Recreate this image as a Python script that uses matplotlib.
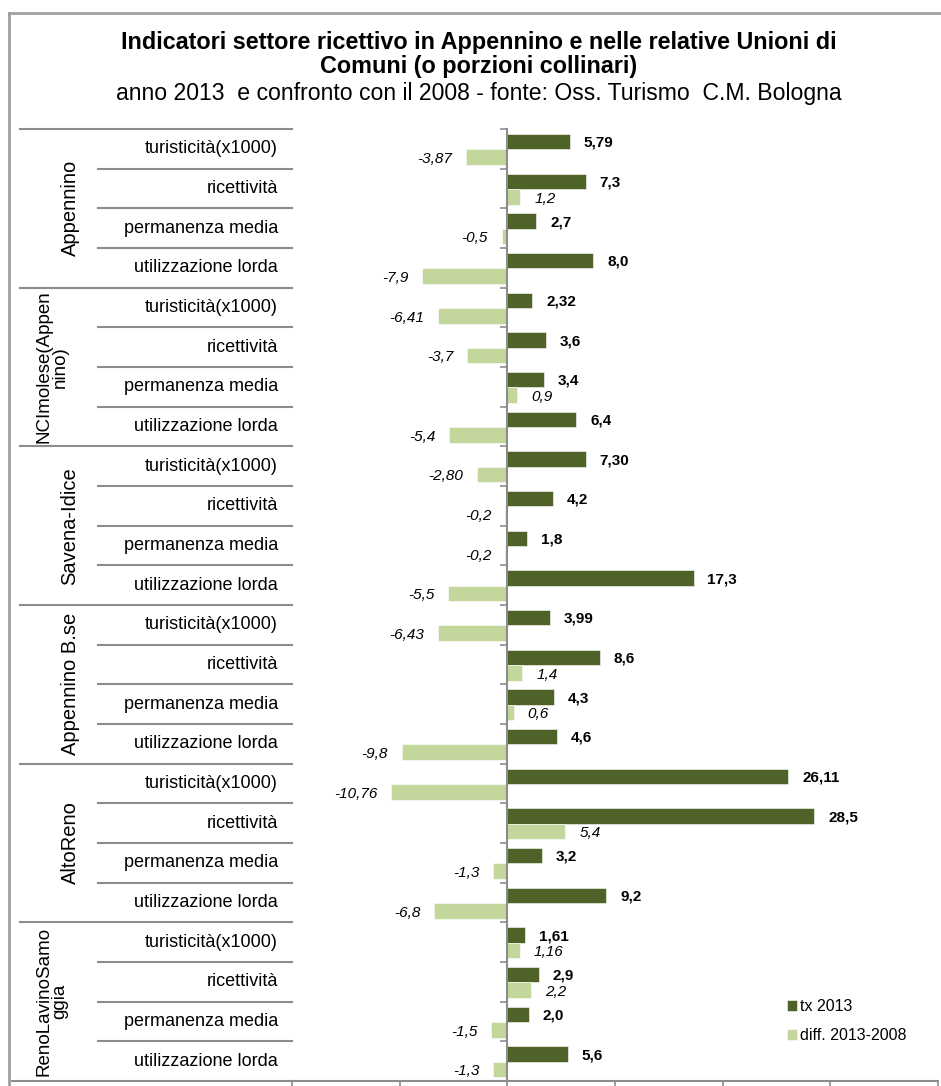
import numpy as np
import matplotlib
matplotlib.use("Agg")
import matplotlib.pyplot as plt

plt.rcParams["font.family"] = ["Liberation Sans", "DejaVu Sans"]

# data
groups = ["Appennino", "NCImolese(Appen\nnino)", "Savena-Idice",
          "Appennino B.se", "AltoReno", "RenoLavinoSamo\nggia"]
indicators = ["turisticità(x1000)", "ricettività", "permanenza media", "utilizzazione lorda"]
decimals = [2, 1, 1, 1]

tx_2013 = [5.79, 7.3, 2.7, 8.0,
           2.32, 3.6, 3.4, 6.4,
           7.30, 4.2, 1.8, 17.3,
           3.99, 8.6, 4.3, 4.6,
           26.11, 28.5, 3.2, 9.2,
           1.61, 2.9, 2.0, 5.6]
diff_2013_2008 = [-3.87, 1.2, -0.5, -7.9,
                  -6.41, -3.7, 0.9, -5.4,
                  -2.80, -0.2, -0.2, -5.5,
                  -6.43, 1.4, 0.6, -9.8,
                  -10.76, 5.4, -1.3, -6.8,
                  1.16, 2.2, -1.5, -1.3]

dark = "#4f6228"
light = "#c3d69b"
grey = "#8c8c8c"

W, H = 941, 1086
fig = plt.figure(figsize=(W / 100, H / 100), dpi=100)

n = len(tx_2013)
y = np.arange(n)

# main plot area
ax = fig.add_axes([292 / W, 1 - 1081 / H, 646 / W, (1081 - 129) / H])
ax.barh(y + 0.32, tx_2013, height=0.39, color=dark, edgecolor="white", linewidth=0.4, label="tx 2013")
ax.barh(y + 0.71, diff_2013_2008, height=0.39, color=light, edgecolor="white", linewidth=0.4,
        label="diff. 2013-2008")
ax.set_xlim(-20, 40)
ax.set_ylim(n, 0)

for i in range(n):
    d = decimals[i % 4]
    ax.annotate(f"{tx_2013[i]:.{d}f}".replace(".", ","), (tx_2013[i], i + 0.35),
                xytext=(10, 0), textcoords="offset points", ha="left", va="center",
                fontsize=11, fontweight="bold")
    v = diff_2013_2008[i]
    off = 10 if v >= 0 else -10
    ax.annotate(f"{v:.{d}f}".replace(".", ","), (v, i + 0.76),
                xytext=(off, 0), textcoords="offset points",
                ha="left" if v >= 0 else "right", va="center",
                fontsize=11, fontstyle="italic")

for s in ["top", "right"]:
    ax.spines[s].set_visible(False)
ax.spines["left"].set_position(("data", 0))
ax.spines["left"].set_color(grey)
ax.spines["left"].set_linewidth(1.5)
ax.spines["bottom"].set_color(grey)
ax.spines["bottom"].set_linewidth(1.5)
ax.set_yticks(np.arange(n + 1))
ax.set_yticklabels([])
ax.set_xticks(np.arange(-20, 41, 10))
ax.set_xticklabels([])
ax.tick_params(axis="both", direction="out", length=5, width=1.2, color=grey)

leg = ax.legend(loc="center left", bbox_to_anchor=(787 / W, 1 - 1021 / H),
                bbox_transform=fig.transFigure, frameon=False, fontsize=11.5,
                handlelength=0.6, handleheight=0.7, handletextpad=0.2, labelspacing=0.9,
                borderpad=0, borderaxespad=0)

# category label column
lab = fig.add_axes([0, 1 - 1081 / H, 292 / W, (1081 - 129) / H])
lab.set_xlim(0, 292)
lab.set_ylim(n, 0)
lab.axis("off")
for i in range(n):
    lab.text(278, i + 0.5, indicators[i % 4], ha="right", va="center", fontsize=13)
    if i % 4:
        lab.plot([98, 292], [i, i], color=grey, lw=1.5, clip_on=False)
for g, name in enumerate(groups):
    lab.plot([20, 292], [4 * g, 4 * g], color=grey, lw=1.5, clip_on=False)
    two_lines = "\n" in name
    lab.text(52 if two_lines else 70, 4 * g + 2, name, rotation=90, ha="center", va="center",
             fontsize=13.5 if two_lines else 14.5, multialignment="center", linespacing=0.95)
lab.plot([12, 292], [n, n], color=grey, lw=1.5, clip_on=False)

# outer chart frame (chart is cropped at right and bottom)
fig.add_artist(plt.Line2D([9 / W, 9 / W], [0, 1 - 13 / H], color="#a0a0a0", lw=2))
fig.add_artist(plt.Line2D([9 / W, 1], [1 - 13 / H, 1 - 13 / H], color="#a0a0a0", lw=2))

fig.text(479 / W, 1 - 42 / H, "Indicatori settore ricettivo in Appennino e nelle relative Unioni di",
         ha="center", va="center", fontsize=16.8, fontweight="bold")
fig.text(479 / W, 1 - 66 / H, "Comuni (o porzioni collinari)",
         ha="center", va="center", fontsize=16.8, fontweight="bold")
fig.text(479 / W, 1 - 93 / H, "anno 2013  e confronto con il 2008 - fonte: Oss. Turismo  C.M. Bologna",
         ha="center", va="center", fontsize=16.6)

fig.savefig("out.png", dpi=100)
